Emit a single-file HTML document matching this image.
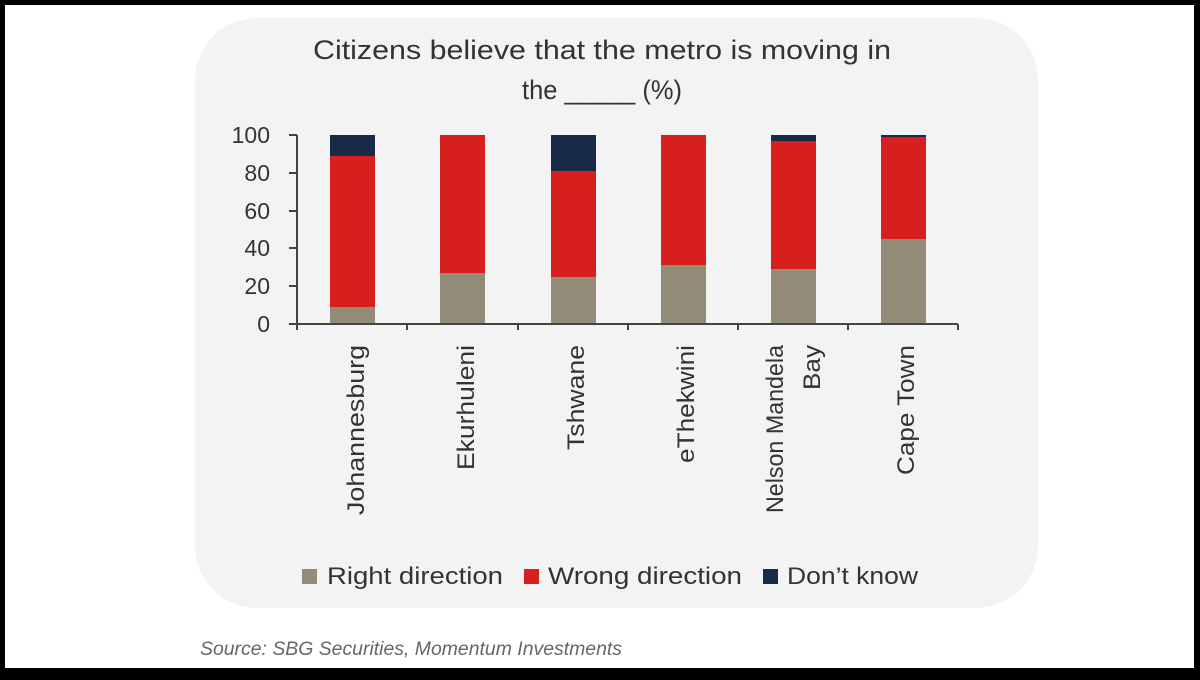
<!DOCTYPE html>
<html><head><meta charset="utf-8"><style>
html,body{margin:0;padding:0;background:#000;}
body{width:1200px;height:675px;overflow:hidden;}
</style></head><body>
<svg width="1200" height="675" xmlns="http://www.w3.org/2000/svg" font-family="Liberation Sans, sans-serif">
<rect x="0" y="0" width="1200" height="675" fill="#000"/>
<rect x="5" y="5" width="1189" height="663" fill="#fff"/>
<rect x="195" y="18" width="843" height="590" rx="62" fill="#f3f3f3"/>
<text x="602" y="59" font-size="27" fill="#333" text-anchor="middle" textLength="578" lengthAdjust="spacingAndGlyphs">Citizens believe that the metro is moving in</text>
<text x="602" y="99" font-size="27" fill="#333" text-anchor="middle" textLength="160" lengthAdjust="spacingAndGlyphs">the _____ (%)</text>
<g font-size="23" fill="#333" text-anchor="end">
<text x="270" y="143">100</text><text x="270" y="181">80</text><text x="270" y="219">60</text>
<text x="270" y="256">40</text><text x="270" y="294">20</text><text x="270" y="332">0</text>
</g>
<g>
<rect x="330" y="307" width="45" height="17" fill="#928b78"/><rect x="330" y="156" width="45" height="151" fill="#d7201e"/><rect x="330" y="135" width="45" height="21" fill="#172a48"/>
<rect x="440" y="273" width="45" height="51" fill="#928b78"/><rect x="440" y="135" width="45" height="138" fill="#d7201e"/>
<rect x="551" y="277" width="45" height="47" fill="#928b78"/><rect x="551" y="171" width="45" height="106" fill="#d7201e"/><rect x="551" y="135" width="45" height="36" fill="#172a48"/>
<rect x="661" y="265" width="45" height="59" fill="#928b78"/><rect x="661" y="135" width="45" height="130" fill="#d7201e"/>
<rect x="771" y="269" width="45" height="55" fill="#928b78"/><rect x="771" y="140" width="45" height="129" fill="#d7201e"/><rect x="771" y="135" width="45" height="6" fill="#172a48"/>
<rect x="881" y="239" width="45" height="85" fill="#928b78"/><rect x="881" y="137" width="45" height="102" fill="#d7201e"/><rect x="881" y="135" width="45" height="2" fill="#172a48"/>
</g>
<g stroke="#444" stroke-width="2" fill="none">
<path d="M297 135V330M289 135H297M289 173H297M289 211H297M289 248H297M289 286H297M289 324H958"/>
<path d="M407 324V330M518 324V330M628 324V330M738 324V330M848 324V330M958 324V330"/>
</g>
<g font-size="24" fill="#333" text-anchor="end">
<text transform="translate(364,345) rotate(-90)" textLength="170" lengthAdjust="spacingAndGlyphs">Johannesburg</text>
<text transform="translate(474,345) rotate(-90)" textLength="125" lengthAdjust="spacingAndGlyphs">Ekurhuleni</text>
<text transform="translate(584,345) rotate(-90)" textLength="105" lengthAdjust="spacingAndGlyphs">Tshwane</text>
<text transform="translate(694,345) rotate(-90)" textLength="118" lengthAdjust="spacingAndGlyphs">eThekwini</text>
<text transform="translate(783,345) rotate(-90)" textLength="168" lengthAdjust="spacingAndGlyphs">Nelson Mandela</text>
<text transform="translate(820,345) rotate(-90)" textLength="45" lengthAdjust="spacingAndGlyphs">Bay</text>
<text transform="translate(914,345) rotate(-90)" textLength="130" lengthAdjust="spacingAndGlyphs">Cape Town</text>
</g>
<rect x="302" y="569" width="15" height="15" fill="#928b78"/>
<text x="327" y="584" font-size="24" fill="#333" textLength="176" lengthAdjust="spacingAndGlyphs">Right direction</text>
<rect x="524" y="569" width="15" height="15" fill="#d7201e"/>
<text x="548" y="584" font-size="24" fill="#333" textLength="194" lengthAdjust="spacingAndGlyphs">Wrong direction</text>
<rect x="763" y="569" width="15" height="15" fill="#172a48"/>
<text x="787" y="584" font-size="24" fill="#333" textLength="131" lengthAdjust="spacingAndGlyphs">Don’t know</text>
<text x="200" y="655" font-size="19" font-style="italic" fill="#666" textLength="422" lengthAdjust="spacingAndGlyphs">Source: SBG Securities, Momentum Investments</text>
</svg>
</body></html>
